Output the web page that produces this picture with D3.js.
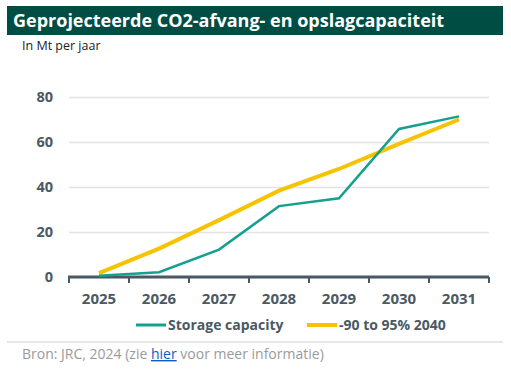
<!DOCTYPE html>
<html>
<head>
<meta charset="utf-8">
<script src="https://cdn.jsdelivr.net/npm/d3@7"></script>
<style>
  body { margin: 0; background: #fff; }
  svg { font-family: 'Open Sans', sans-serif; }
</style>
</head>
<body>
<svg width="511" height="375"></svg>
<script>
const years = ['2025', '2026', '2027', '2028', '2029', '2030', '2031'];
const storage = [0.6, 2.1, 12.2, 31.5, 35, 65.8, 71.4];
const target = [1.7, 12.6, 25.3, 38.4, 48, 59.2, 70];
const yTicks = [0, 20, 40, 60, 80];
const seriesNames = ['Storage capacity', '-90 to 95% 2040'];
const colors = ['#14a08e', '#f6c300'];

const svg = d3.select('svg');

// title bar
svg.append('rect')
    .attr('x', 7).attr('y', 6)
    .attr('width', 496).attr('height', 29)
    .attr('fill', '#004d44');
svg.append('text')
    .attr('x', 13).attr('y', 27)
    .attr('fill', '#fff')
    .attr('font-size', 18)
    .attr('font-weight', 700)
    .text('Geprojecteerde CO2-afvang- en opslagcapaciteit');
svg.append('text')
    .attr('x', 22).attr('y', 50)
    .attr('fill', '#222')
    .attr('font-size', 12.5)
    .text('In Mt per jaar');

const x = d3.scaleBand().domain(years).range([69, 489]);
const y = d3.scaleLinear().domain([0, 80]).range([277, 97]);

const g = svg.append('g');

// grid
const yAxisG = g.append('g')
    .attr('transform', 'translate(69,0)')
    .call(d3.axisLeft(y).tickValues(yTicks).tickSize(-420).tickPadding(16));
yAxisG.select('.domain').remove();
yAxisG.selectAll('.tick line').attr('stroke', '#e3e3e3').attr('stroke-width', 1.5);
yAxisG.selectAll('.tick text')
    .attr('fill', '#4a5963')
    .attr('font-size', 14.5)
    .attr('font-weight', 700)
    .attr('font-family', "'Open Sans', sans-serif");

// x axis with ticks at band edges
const xAxisG = g.append('g').attr('transform', 'translate(0,277)');
xAxisG.append('line')
    .attr('x1', 68).attr('x2', 489)
    .attr('stroke', '#4a5963').attr('stroke-width', 3);
const edges = years.map(d => x(d)).concat([x.range()[1]]);
xAxisG.selectAll('.edge').data(edges).enter().append('line')
    .attr('class', 'edge')
    .attr('x1', d => d).attr('x2', d => d)
    .attr('y1', 0).attr('y2', 6)
    .attr('stroke', '#4a5963').attr('stroke-width', 2);
xAxisG.selectAll('.lbl').data(years).enter().append('text')
    .attr('class', 'lbl')
    .attr('x', d => x(d) + x.bandwidth() / 2)
    .attr('y', 27)
    .attr('text-anchor', 'middle')
    .attr('fill', '#4a5963')
    .attr('font-size', 15)
    .attr('font-weight', 700)
    .text(d => d);

const line = d3.line()
    .x((d, i) => x(years[i]) + x.bandwidth() / 2)
    .y(d => y(d));

g.append('path').datum(target)
    .attr('fill', 'none').attr('stroke', colors[1])
    .attr('stroke-width', 4).attr('d', line);
g.append('path').datum(storage)
    .attr('fill', 'none').attr('stroke', colors[0])
    .attr('stroke-width', 2.5).attr('d', line);

// legend
const legendX = [136, 307];
const lg = svg.append('g');
seriesNames.forEach((name, i) => {
  lg.append('line')
      .attr('x1', legendX[i]).attr('x2', legendX[i] + 30)
      .attr('y1', 325).attr('y2', 325)
      .attr('stroke', colors[i]).attr('stroke-width', i ? 4 : 3);
  lg.append('text')
      .attr('x', legendX[i] + 32).attr('y', 330)
      .attr('fill', '#4a5963')
      .attr('font-size', 14)
      .attr('font-weight', 700)
      .text(name);
});

// footer
svg.append('line')
    .attr('x1', 7).attr('x2', 503)
    .attr('y1', 342).attr('y2', 342)
    .attr('stroke', '#d0d0d0').attr('stroke-width', 1);
const foot = svg.append('text')
    .attr('x', 22).attr('y', 359)
    .attr('fill', '#9a9a9a')
    .attr('font-size', 14)
    .text('Bron: JRC, 2024 (zie ');
foot.append('tspan').attr('fill', '#0b5cc7').attr('text-decoration', 'underline').text('hier');
foot.append('tspan').text(' voor meer informatie)');
</script>
</body>
</html>
